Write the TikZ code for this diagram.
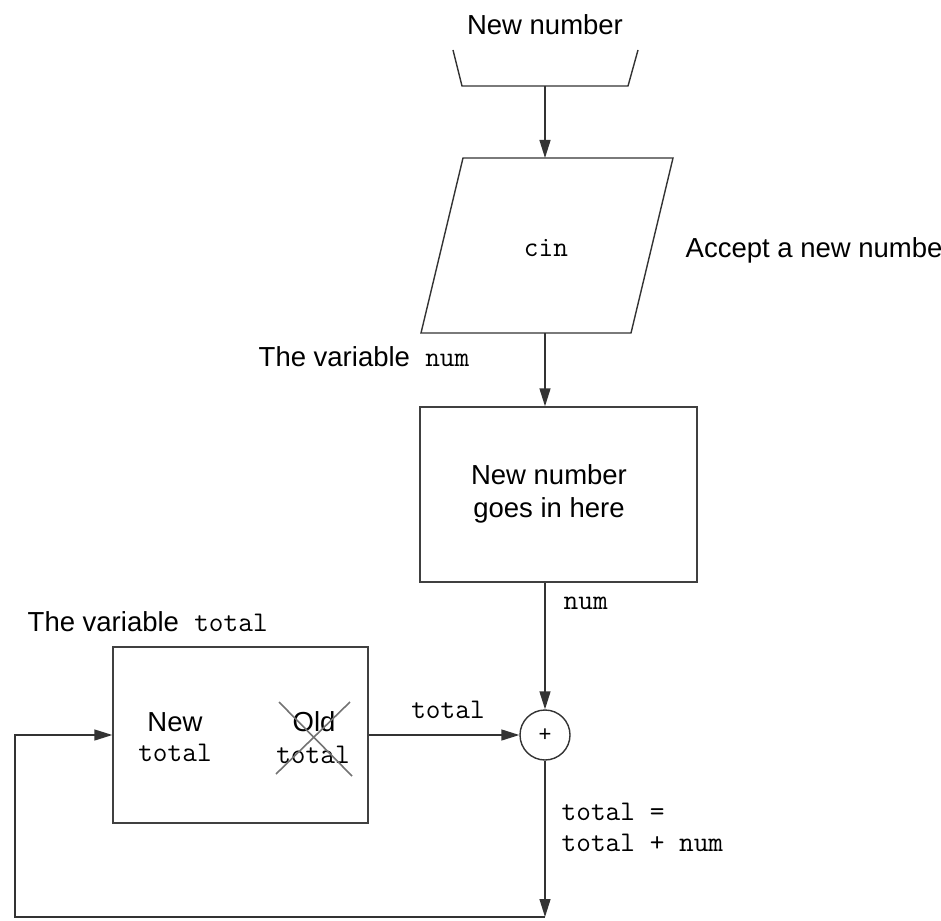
\documentclass[tikz,border=0pt]{standalone}
\usepackage{fontspec}
\setmainfont{Liberation Sans}
\usetikzlibrary{arrows.meta}
\begin{document}
\begin{tikzpicture}[x=1pt,y=-1pt,line width=1.4pt,
  every node/.style={font=\fontsize{27.5}{33}\selectfont,inner sep=0pt,text=black},
  mono/.style={font=\fontsize{28.5}{31}\selectfont\ttfamily},
  lin/.style={draw=black!80},
  arr/.style={draw=black!80,-{Triangle[length=18pt,width=11pt]}},
  box/.style={draw=black!75,rectangle},
  cross/.style={draw=black!55,line width=1.6pt}]
\useasboundingbox (0,0) rectangle (941,920);
% input symbol
\node (newnum) at (545,25) {New number};
\draw[lin] (453,50) -- (462,86) -- (628,86) -- (638,50);
\coordinate (inbot) at (545,86);
% parallelogram
\draw[lin] (463,158) -- (673,158) -- (631,333) -- (421,333) -- cycle;
\coordinate (ptop) at (545,158);
\coordinate (pbot) at (545,333);
\node[mono] (cin) at (546,248) {cin};
\node[anchor=west] (accept) at (685,250) {Accept a new number};
\draw[arr] (inbot) -- (ptop);
% num box
\node[anchor=west] (varnum) at (258,357) {The variable\ \ \texttt{\fontsize{28.5}{31}\selectfont num}};
\node[box,minimum width=277pt,minimum height=175pt] (numbox) at (558.5,494.5) {};
\node[align=center] (numtext) at (549,494) {New number\\goes in here};
\draw[arr] (pbot) -- (pbot |- numbox.north);
% adder
\node[draw=black!80,circle,minimum size=50pt,font=\fontsize{22}{26}\selectfont] (plus) at (545,735) {+};
\node[mono,anchor=west] (numlbl) at (563,603) {num};
\draw[arr] (plus |- numbox.south) -- (plus.north);
% total box
\node[anchor=west] (vartot) at (27,622) {The variable\ \ \texttt{\fontsize{28.5}{31}\selectfont total}};
\node[box,minimum width=255pt,minimum height=176pt] (totbox) at (240.5,735) {};
\node (newlbl) at (175,722) {New};
\node[mono] (newtot) at (175,753) {total};
\node (oldlbl) at (314,722) {Old};
\node[mono] (oldtot) at (313,755) {total};
\draw[cross] (279,702) -- (352,776);
\draw[cross] (350,702) -- (276,774);
\draw[arr] (totbox.east) -- (plus.west);
\node[mono] (totlbl) at (448,710) {total};
% result
\coordinate (fb) at (545,917);
\coordinate (fbl) at (15,917);
\draw[arr] (plus.south) -- (fb);
\node[mono,anchor=west,align=left] (sumlbl) at (561,827) {total =\\total + num};
\draw[arr] (fb) -- (fbl) |- (totbox.west);
\end{tikzpicture}
\end{document}
